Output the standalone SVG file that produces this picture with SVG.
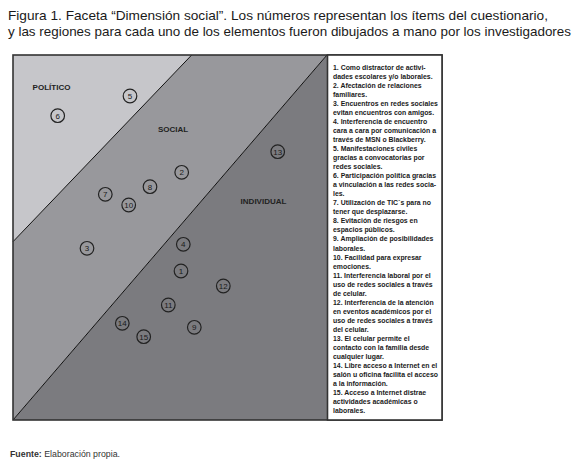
<svg xmlns="http://www.w3.org/2000/svg" width="580" height="465" viewBox="0 0 580 465">
<style>
.title{font-family:"Liberation Sans",Arial,sans-serif;font-size:13px;fill:#1a1a1a}
.region-label{font-family:"Liberation Sans",Arial,sans-serif;font-size:8px;font-weight:bold;fill:#222;text-anchor:middle}
.item circle{fill:none;stroke:#222;stroke-width:1.2}
.item text{font-family:"Liberation Sans",Arial,sans-serif;font-size:8px;fill:#1a1a1a;text-anchor:middle}
.legend{font-family:"Liberation Sans",Arial,sans-serif;font-size:6.9px;font-weight:bold;fill:#1a1a1a}
.foot{font-family:"Liberation Sans",Arial,sans-serif;font-size:8.8px;fill:#333}
</style>
<rect width="580" height="465" fill="#ffffff"/>
<text class="title" x="8" y="20" textLength="540" lengthAdjust="spacingAndGlyphs">Figura 1. Faceta “Dimensión social”. Los números representan los ítems del cuestionario,</text>
<text class="title" x="8" y="36" textLength="563" lengthAdjust="spacingAndGlyphs">y las regiones para cada uno de los elementos fueron dibujados a mano por los investigadores</text>

<g id="regions">
<polygon id="region-politico" points="13,55 191.7,55 13,241.7" fill="#c6c6ca"/>
<polygon id="region-social" points="191.7,55 327,55 13,420 13,241.7" fill="#98989c"/>
<polygon id="region-individual" points="327,55 327,420 13,420" fill="#7b7b7f"/>
</g>
<g id="boundaries" stroke="#111" stroke-width="1" fill="none">
<line x1="191.7" y1="55" x2="13" y2="241.7"/>
<line x1="327" y1="55" x2="13" y2="420"/>
</g>
<rect id="frame" x="13" y="55" width="429" height="365" fill="none" stroke="#333" stroke-width="1.6"/>

<g id="labels">
<text class="region-label" x="51.5" y="90">POLÍTICO</text>
<text class="region-label" x="173" y="132">SOCIAL</text>
<text class="region-label" x="263.5" y="204">INDIVIDUAL</text>
</g>

<g id="items">
<g id="item-1" class="item"><circle cx="181" cy="271" r="6.8"/><text x="181" y="273.9">1</text></g>
<g id="item-2" class="item"><circle cx="181.7" cy="172.3" r="6.8"/><text x="181.7" y="175.2">2</text></g>
<g id="item-3" class="item"><circle cx="87" cy="248.3" r="6.8"/><text x="87" y="251.2">3</text></g>
<g id="item-4" class="item"><circle cx="183.3" cy="244.3" r="6.8"/><text x="183.3" y="247.2">4</text></g>
<g id="item-5" class="item"><circle cx="130" cy="96" r="6.8"/><text x="130" y="98.9">5</text></g>
<g id="item-6" class="item"><circle cx="57.7" cy="115.7" r="6.8"/><text x="57.7" y="118.6">6</text></g>
<g id="item-7" class="item"><circle cx="105.3" cy="194.3" r="6.8"/><text x="105.3" y="197.2">7</text></g>
<g id="item-8" class="item"><circle cx="150" cy="186.7" r="6.8"/><text x="150" y="189.6">8</text></g>
<g id="item-9" class="item"><circle cx="194.3" cy="327.3" r="6.8"/><text x="194.3" y="330.2">9</text></g>
<g id="item-10" class="item"><circle cx="128.7" cy="205" r="6.8"/><text x="128.7" y="207.9">10</text></g>
<g id="item-11" class="item"><circle cx="168.3" cy="305" r="6.8"/><text x="168.3" y="307.9">11</text></g>
<g id="item-12" class="item"><circle cx="223.3" cy="286" r="6.8"/><text x="223.3" y="288.9">12</text></g>
<g id="item-13" class="item"><circle cx="277.7" cy="151.7" r="6.8"/><text x="277.7" y="154.6">13</text></g>
<g id="item-14" class="item"><circle cx="122.3" cy="323.3" r="6.8"/><text x="122.3" y="326.2">14</text></g>
<g id="item-15" class="item"><circle cx="143.7" cy="336.7" r="6.8"/><text x="143.7" y="339.6">15</text></g>
</g>

<g id="legend">
<rect x="327.5" y="55" width="114.5" height="365" fill="#ffffff" stroke="#333" stroke-width="1.6"/>
<text class="legend" x="333" y="69.5">
<tspan x="333" dy="0">1. Como distractor de activi-</tspan>
<tspan x="333" dy="9.05">dades escolares y/o laborales.</tspan>
<tspan x="333" dy="9.05">2. Afectación de relaciones</tspan>
<tspan x="333" dy="9.05">familiares.</tspan>
<tspan x="333" dy="9.05">3. Encuentros en redes sociales</tspan>
<tspan x="333" dy="9.05">evitan encuentros con amigos.</tspan>
<tspan x="333" dy="9.05">4. Interferencia de encuentro</tspan>
<tspan x="333" dy="9.05">cara a cara por comunicación a</tspan>
<tspan x="333" dy="9.05">través de MSN o Blackberry.</tspan>
<tspan x="333" dy="9.05">5. Manifestaciones civiles</tspan>
<tspan x="333" dy="9.05">gracias a convocatorias por</tspan>
<tspan x="333" dy="9.05">redes sociales.</tspan>
<tspan x="333" dy="9.05">6. Participación política gracias</tspan>
<tspan x="333" dy="9.05">a vinculación a las redes socia-</tspan>
<tspan x="333" dy="9.05">les.</tspan>
<tspan x="333" dy="9.05">7. Utilización de TIC´s para no</tspan>
<tspan x="333" dy="9.05">tener que desplazarse.</tspan>
<tspan x="333" dy="9.05">8. Evitación de riesgos en</tspan>
<tspan x="333" dy="9.05">espacios públicos.</tspan>
<tspan x="333" dy="9.05">9. Ampliación de posibilidades</tspan>
<tspan x="333" dy="9.05">laborales.</tspan>
<tspan x="333" dy="9.05">10. Facilidad para expresar</tspan>
<tspan x="333" dy="9.05">emociones.</tspan>
<tspan x="333" dy="9.05">11. Interferencia laboral por el</tspan>
<tspan x="333" dy="9.05">uso de redes sociales a través</tspan>
<tspan x="333" dy="9.05">de celular.</tspan>
<tspan x="333" dy="9.05">12. Interferencia de la atención</tspan>
<tspan x="333" dy="9.05">en eventos académicos por el</tspan>
<tspan x="333" dy="9.05">uso de redes sociales a través</tspan>
<tspan x="333" dy="9.05">del celular.</tspan>
<tspan x="333" dy="9.05">13. El celular permite el</tspan>
<tspan x="333" dy="9.05">contacto con la familia desde</tspan>
<tspan x="333" dy="9.05">cualquier lugar.</tspan>
<tspan x="333" dy="9.05">14. Libre acceso a Internet en el</tspan>
<tspan x="333" dy="9.05">salón u oficina facilita el acceso</tspan>
<tspan x="333" dy="9.05">a la información.</tspan>
<tspan x="333" dy="9.05">15. Acceso a Internet distrae</tspan>
<tspan x="333" dy="9.05">actividades académicas o</tspan>
<tspan x="333" dy="9.05">laborales.</tspan>
</text>
</g>

<text class="foot" x="10" y="457"><tspan font-weight="bold">Fuente:</tspan> Elaboración propia.</text>
</svg>
